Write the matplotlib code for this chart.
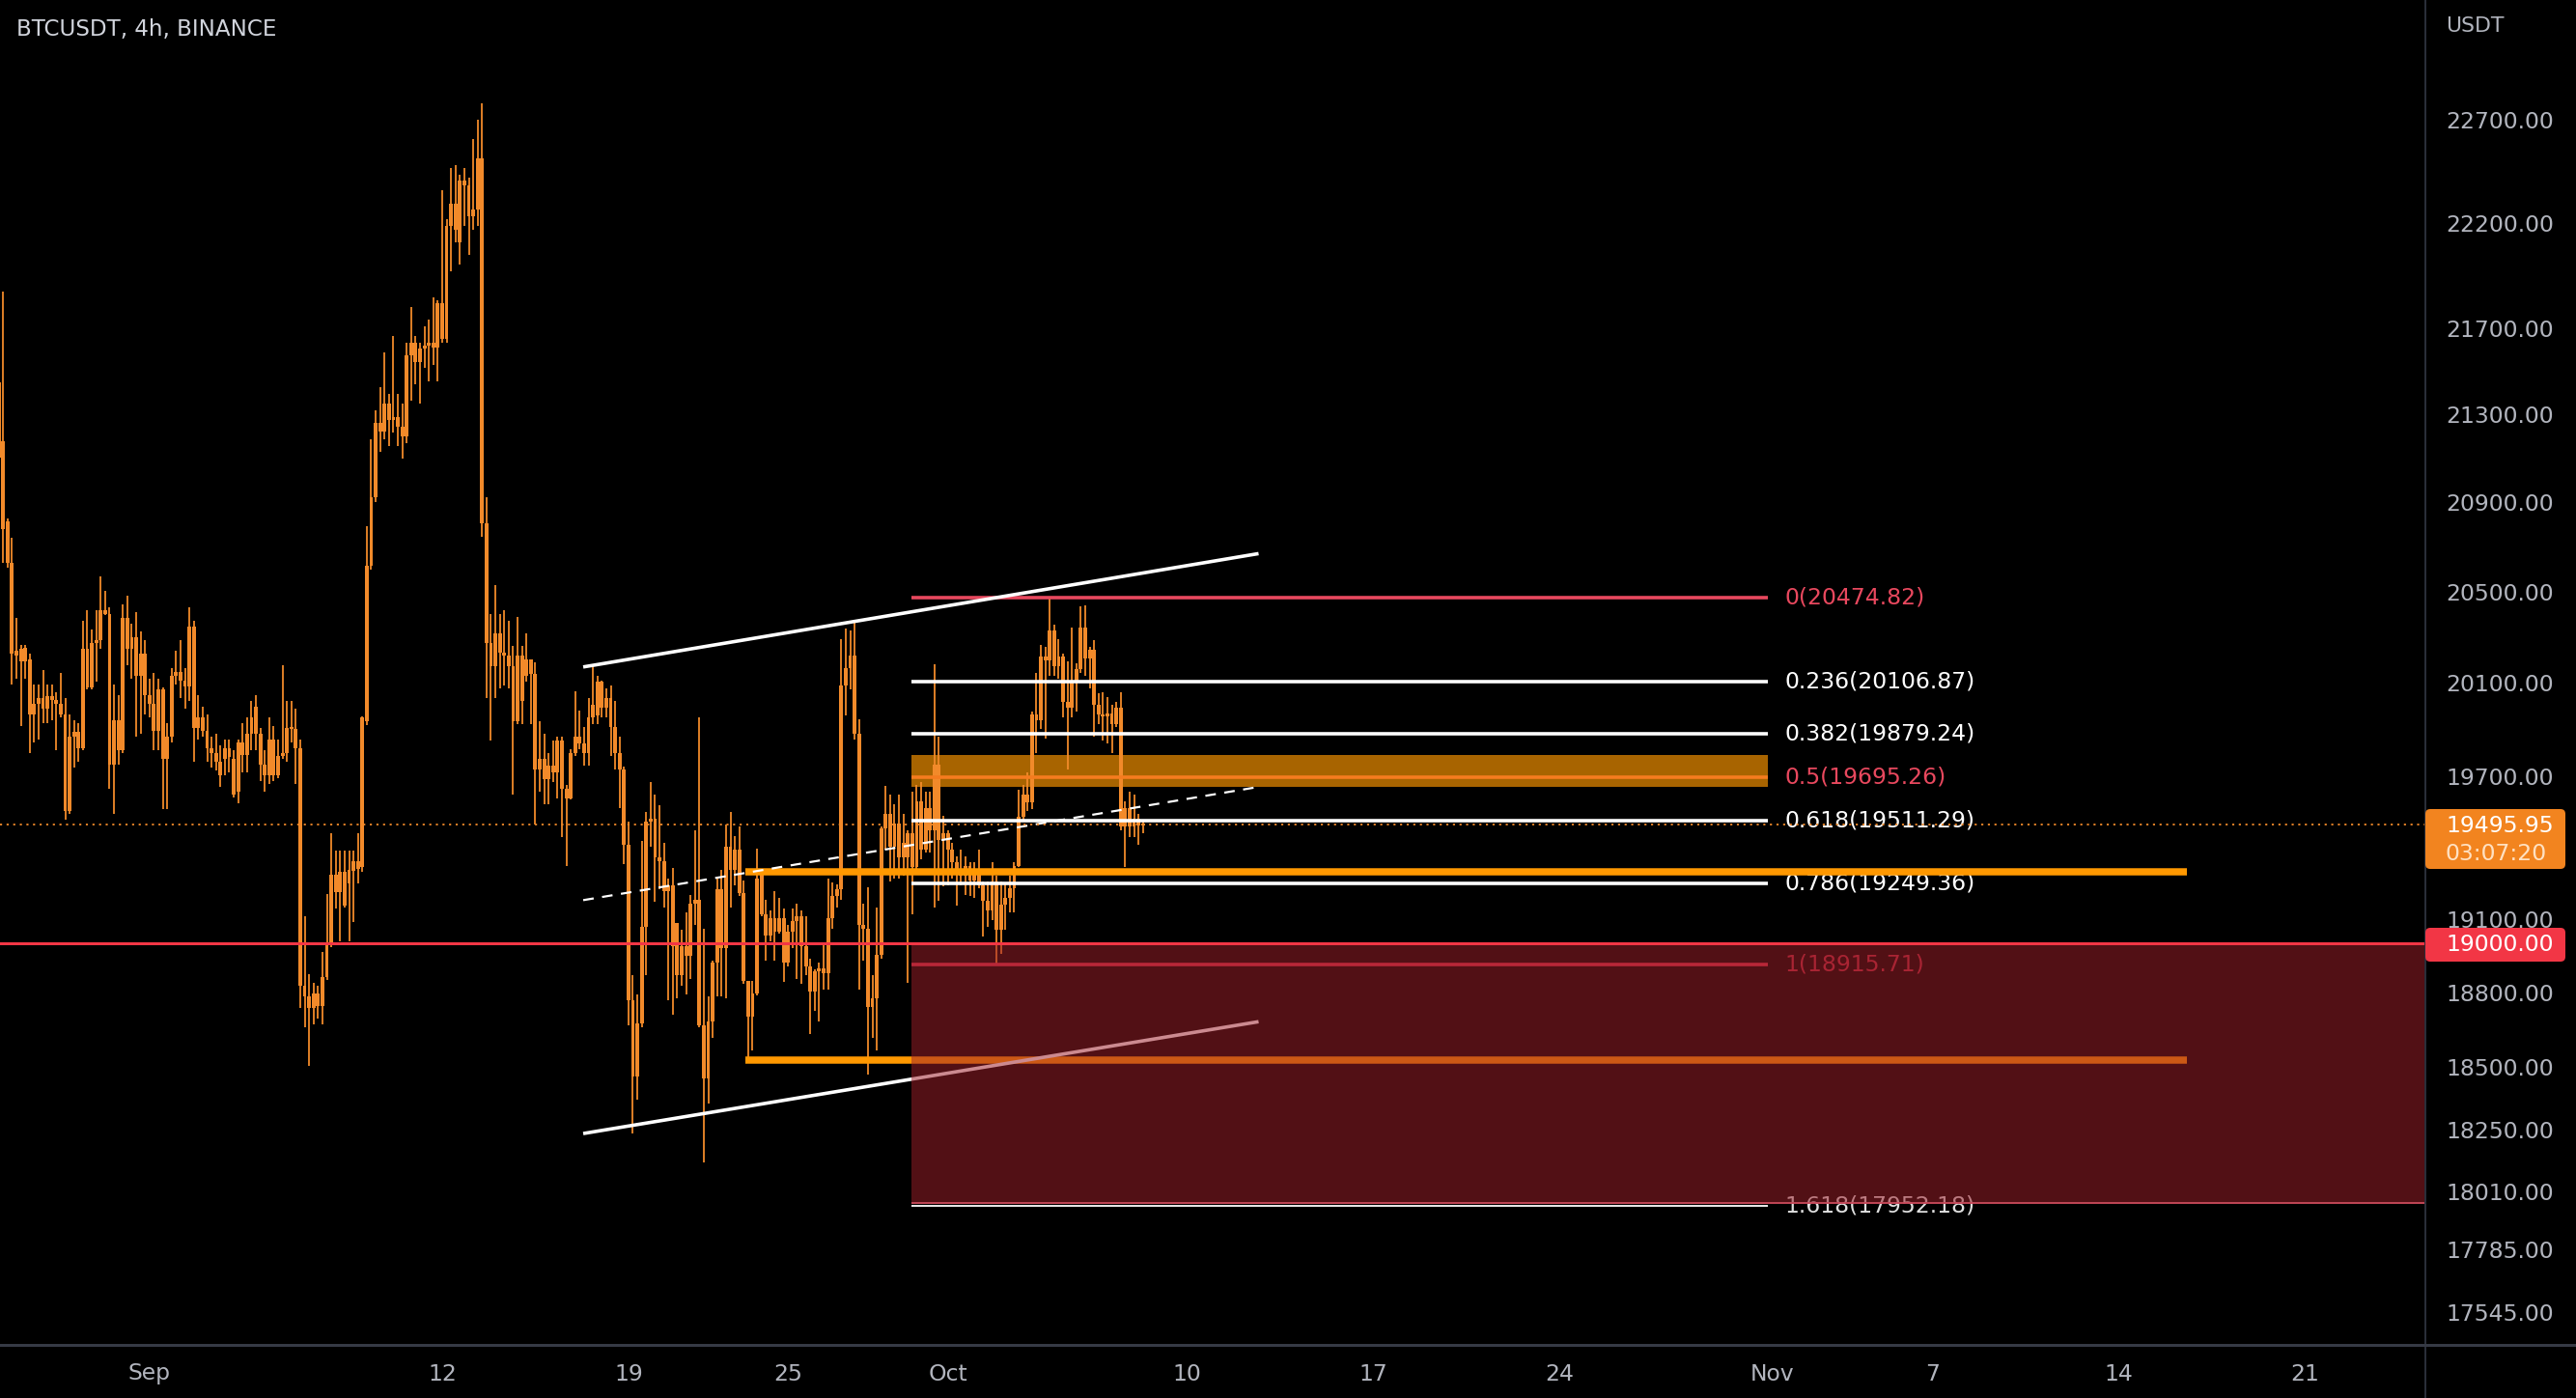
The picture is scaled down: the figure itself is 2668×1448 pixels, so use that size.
import matplotlib
matplotlib.use("Agg")
import matplotlib.pyplot as plt
import numpy as np
from matplotlib.patches import Rectangle, FancyBboxPatch
from matplotlib.lines import Line2D
from matplotlib.ticker import NullLocator

W, H = 2668, 1448
DPI = 100
PT = 72 / DPI  # points per pixel

# BTCUSDT 4h candles, time in days counted from Sep 1 (first candle Aug 26 08:00)
first_day = -5 - 2 / 3
opens = [21447, 21179, 20815, 20629, 20220, 20250, 20195, 20203, 19963, 20011,
         20035, 19990, 20045, 20025, 20010, 19963, 19550, 19868, 19890, 19820,
         20251, 20083, 20275, 20287, 20421, 20400, 19750, 19939, 19809, 20384,
         20251, 20299, 20131, 20227, 20047, 20011, 19892, 20071, 19773, 19868,
         20131, 20150, 20110, 20085, 20348, 19904, 19951, 19892, 19820, 19797,
         19761, 19773, 19820, 19773, 19632, 19844, 19790, 19880, 19999, 19880,
         19750, 19702, 19856, 19702, 19785, 19797, 19904, 19900, 19820, 18829,
         18784, 18739, 18795, 18745, 18862, 18998, 19283, 19214, 19295, 19249,
         19300, 19341, 19318, 19937, 20617, 20922, 21260, 21220, 21350, 21275,
         21290, 21245, 21200, 21575, 21635, 21545, 21605, 21620, 21635, 21610,
         21817, 21650, 22186, 22295, 22108, 22404, 22380, 22232, 22263, 22513,
         20805, 20274, 20175, 20317, 20232, 20218, 20175, 19937, 20218, 20133,
         20204, 20140, 19730, 19772, 19689, 19744, 19716, 19854, 19648, 19607,
         19800, 19868, 19840, 19800, 19951, 19960, 20105, 19993, 20035, 19909,
         19800, 19730, 19410, 18770, 18461, 18675, 19070, 19508, 19520, 19358,
         19343, 19217, 19239, 19085, 18871, 18989, 18950, 19165, 19180, 18668,
         18454, 18683, 18922, 19224, 18981, 19403, 19306, 19388, 19210, 18849,
         18704, 18798, 19284, 19120, 19033, 19106, 19047, 19106, 18922, 19047,
         19091, 19113, 18989, 18908, 18806, 18886, 18900, 18878, 19106, 19195,
         19224, 20088, 20165, 20220, 19880, 19077, 19062, 18741, 18777, 18952,
         19478, 19540, 19403, 19499, 19356, 19356, 19458, 19316, 19594, 19390,
         19566, 19471, 19750, 19431, 19460, 19390, 19336, 19309, 19280, 19322,
         19262, 19296, 19242, 19175, 19135, 19255, 19056, 19162, 19189, 19229,
         19322, 19526, 19621, 19590, 19964, 19940, 20216, 20200, 20328, 20174,
         20216, 20020, 19992, 20104, 20160, 20343, 20209, 20244, 20006, 19964,
         19955, 19970, 19923, 19992, 19485, 19566, 19485, 19520, 19490]
highs = [21520, 21875, 20828, 20741, 20384, 20265, 20265, 20227, 20095, 20095,
         20155, 20095, 20095, 20059, 20143, 20035, 19963, 19939, 19927, 20372,
         20421, 20336, 20421, 20568, 20506, 20433, 20095, 20047, 20445, 20482,
         20360, 20409, 20324, 20287, 20119, 20143, 20119, 20083, 19927, 20167,
         20239, 20287, 20167, 20433, 20372, 20047, 19999, 19963, 19868, 19880,
         19832, 19856, 19856, 19809, 19856, 19927, 19951, 20023, 20047, 19904,
         19809, 19951, 19915, 19856, 20179, 20023, 20023, 19987, 19856, 19112,
         18874, 18840, 18829, 18964, 19203, 19457, 19387, 19387, 19387, 19387,
         19387, 19457, 19955, 20791, 21186, 21320, 21425, 21590, 21395, 21665,
         21395, 21350, 21635, 21802, 21665, 21635, 21711, 21741, 21847, 21832,
         22357, 22218, 22466, 22482, 22435, 22466, 22420, 22608, 22703, 22782,
         20922, 20403, 20531, 20403, 20417, 20374, 20260, 20388, 20260, 20317,
         20204, 20190, 19937, 19882, 19800, 19854, 19868, 19868, 19661, 19813,
         20063, 19979, 19909, 20035, 20175, 20133, 20110, 20077, 20091, 20021,
         19868, 19740, 19508, 18871, 18791, 19425, 19546, 19675, 19622, 19576,
         19418, 19269, 19313, 19085, 19055, 19128, 19202, 19471, 19950, 19062,
         18784, 18930, 19269, 19306, 19493, 19546, 19448, 19486, 19261, 18849,
         18849, 19395, 19291, 19180, 19135, 19217, 19187, 19143, 19077, 19143,
         19165, 19135, 19113, 18937, 18893, 18922, 19000, 19269, 19254, 19246,
         20290, 20338, 20330, 20377, 19942, 19165, 19232, 18871, 19150, 19486,
         19660, 19621, 19580, 19621, 19539, 19472, 19634, 19662, 19675, 19634,
         19634, 20180, 19868, 19532, 19470, 19417, 19363, 19390, 19363, 19336,
         19336, 19390, 19255, 19255, 19336, 19282, 19255, 19249, 19282, 19336,
         19641, 19662, 19716, 19978, 20146, 20265, 20258, 20471, 20357, 20293,
         20230, 20195, 20343, 20188, 20435, 20442, 20258, 20286, 20055, 20062,
         20041, 20006, 20020, 20062, 19594, 19634, 19621, 19539, 19506]
lows = [21060, 20629, 20607, 20095, 20119, 19915, 20119, 19797, 19844, 19856,
        19927, 19927, 19939, 19809, 19951, 19515, 19540, 19738, 19761, 19809,
        20071, 20071, 20107, 20251, 20397, 19644, 19538, 19750, 19797, 20179,
        20119, 19868, 19880, 19963, 19951, 19809, 19809, 19562, 19562, 19844,
        20095, 20035, 19987, 20023, 19761, 19856, 19868, 19761, 19738, 19726,
        19656, 19702, 19714, 19610, 19585, 19714, 19714, 19809, 19809, 19679,
        19632, 19667, 19679, 19691, 19773, 19761, 19844, 19667, 18739, 18661,
        18505, 18672, 18694, 18672, 18851, 18987, 19146, 19009, 19150, 19009,
        19089, 19249, 19295, 19920, 20600, 20900, 21128, 21186, 21157, 21216,
        21157, 21098, 21171, 21365, 21440, 21350, 21515, 21455, 21530, 21455,
        21635, 21635, 21970, 22108, 22001, 22186, 22046, 22170, 22186, 20747,
        20035, 19854, 20035, 20077, 20091, 20077, 19620, 19923, 19923, 20105,
        19923, 19497, 19634, 19580, 19580, 19675, 19607, 19443, 19321, 19600,
        19786, 19813, 19744, 19744, 19923, 19923, 19951, 19951, 19786, 19730,
        19566, 19328, 18668, 18235, 18369, 18660, 18871, 19403, 19172, 19224,
        19150, 18770, 18712, 18777, 18827, 18791, 18857, 19077, 18660, 18122,
        18355, 18618, 18784, 18784, 18777, 19150, 19239, 19195, 18835, 18532,
        18568, 18790, 19113, 18930, 19011, 18930, 19040, 18842, 18908, 18981,
        18857, 18835, 18871, 18632, 18726, 18683, 18813, 18813, 19062, 19150,
        19180, 19959, 20073, 19857, 18813, 18930, 18469, 18618, 18568, 18937,
        19390, 19255, 19269, 19269, 19282, 18840, 19122, 19310, 19350, 19377,
        19377, 19149, 19175, 19235, 19242, 19269, 19155, 19242, 19202, 19195,
        19189, 19229, 19030, 19070, 19096, 18918, 18957, 19056, 19128, 19128,
        19316, 19506, 19553, 19560, 19799, 19903, 19861, 20132, 20132, 20118,
        19950, 19730, 19950, 19978, 20146, 20132, 20076, 19868, 19923, 19854,
        19840, 19799, 19909, 19471, 19316, 19444, 19444, 19410, 19458]
closes = [21103, 20778, 20629, 20227, 20240, 20195, 20255, 19963, 20011, 20035,
          19990, 20045, 20025, 20010, 19963, 19550, 19868, 19890, 19820, 20251,
          20083, 20275, 20287, 20421, 20400, 19750, 19939, 19809, 20384, 20251,
          20299, 20131, 20227, 20047, 20011, 19892, 20071, 19773, 19868, 20131,
          20150, 20110, 20085, 20348, 19904, 19951, 19892, 19820, 19797, 19761,
          19702, 19820, 19780, 19620, 19844, 19790, 19880, 19951, 19880, 19750,
          19702, 19856, 19702, 19785, 19797, 19904, 19900, 19820, 18829, 18784,
          18739, 18795, 18745, 18862, 18998, 19283, 19214, 19295, 19157, 19306,
          19341, 19310, 19951, 20617, 20922, 21260, 21220, 21350, 21275, 21290,
          21245, 21200, 21575, 21635, 21545, 21605, 21620, 21635, 21610, 21817,
          21650, 22186, 22295, 22170, 22404, 22380, 22232, 22263, 22513, 20805,
          20274, 20175, 20317, 20232, 20218, 20175, 19937, 20218, 20021, 20204,
          20140, 19730, 19772, 19689, 19744, 19716, 19854, 19648, 19607, 19800,
          19868, 19840, 19800, 19951, 20007, 20105, 19993, 20035, 19909, 19800,
          19730, 19410, 18770, 18461, 18675, 19070, 19508, 19520, 19358, 19343,
          19217, 19239, 18989, 18871, 18989, 18950, 19165, 19180, 18668, 18454,
          18683, 18922, 19224, 18981, 19403, 19306, 19388, 19210, 18849, 18704,
          18798, 19269, 19120, 19033, 19106, 19047, 19106, 18922, 19047, 19091,
          19113, 18989, 18908, 18806, 18886, 18900, 18878, 19106, 19195, 19224,
          20088, 20165, 20220, 19880, 19077, 19062, 18741, 18777, 18952, 19478,
          19540, 19403, 19499, 19356, 19417, 19458, 19316, 19594, 19390, 19566,
          19471, 19750, 19431, 19460, 19390, 19336, 19309, 19280, 19322, 19262,
          19296, 19242, 19175, 19135, 19255, 19056, 19162, 19189, 19229, 19322,
          19526, 19621, 19590, 19964, 19940, 20216, 20200, 20328, 20174, 20216,
          20020, 19992, 20104, 20160, 20343, 20209, 20244, 20006, 19964, 19955,
          19970, 19923, 19992, 19485, 19566, 19485, 19520, 19490, 19495.95]

# annotations
support_level = 19000
fib_days = [28.64, 60.82]
fib_ratios = [0, 0.236, 0.382, 0.5, 0.618, 0.786, 1, 1.618]
fib_prices = [20474.82, 20106.87, 19879.24, 19695.26, 19511.29, 19249.36, 18915.71, 17952.18]
fib_colors = ['#e8485e', 'white', 'white', '#f57c1f', 'white', 'white', '#d63048', 'white']
fib_text_colors = ['#e8485e', 'white', 'white', '#e8485e', 'white', 'white', '#b52a3e', '#e0e0e0']
fib_widths = [3.6, 3.6, 3.6, 3.6, 3.6, 3.6, 3.6, 1.8]
zone_band = [19654, 19791]
red_zone = [17960, 19000]
box_days = [22.39, 76.57]
box_prices = [19295, 18526]
chan_days = [16.30, 41.68]
chan_upper = [20170, 20670]
chan_mid = [19179, 19654]
chan_lower = [18236, 18682]

price_ticks = [22700, 22200, 21700, 21300, 20900, 20500, 20100, 19700, 19100,
               18800, 18500, 18250, 18010, 17785, 17545]
day_ticks = [0, 11, 18, 24, 30, 39, 46, 53, 61, 67, 74, 81]
day_labels = ['Sep', '12', '19', '25', 'Oct', '10', '17', '24', 'Nov', '7', '14', '21']

CANDLE = '#f28a2a'
RED = '#f23645'
GRID = '#2a2e39'
TXT = '#b2b5be'
FS = 16.9

fig = plt.figure(figsize=(W / DPI, H / DPI), dpi=DPI, facecolor='black')
ax = fig.add_axes([0, 55 / H, 2512 / W, 1393 / H])
ax.set_facecolor('black')
ax.set_yscale('log')
ax.set_xlim(-5.617, 85.53)
ax.set_ylim(17422, 23296)

# candles
t = first_day + np.arange(len(opens)) / 6
o, hi, lo, c = map(np.array, (opens, highs, lows, closes))
ax.vlines(t, lo, hi, color=CANDLE, lw=1.8 * PT, zorder=2)
body_lo = np.minimum(o, c)
body_h = np.maximum(np.abs(c - o), body_lo * 0.0004)
ax.bar(t, body_h, width=0.14, bottom=body_lo, color=CANDLE, linewidth=0, zorder=2)

# fib retracement
ax.fill_between(fib_days, zone_band[0], zone_band[1], color='#a86400', lw=0, zorder=1.5)
for r, p, col, tcol, lw in zip(fib_ratios, fib_prices, fib_colors, fib_text_colors, fib_widths):
    ax.hlines(p, fib_days[0], fib_days[1], color=col, lw=lw * PT, zorder=3)
    ax.text(fib_days[1] + 0.62, p, f"{r:g}({p:.2f})", color=tcol, fontsize=FS,
            va='center', ha='left', zorder=3)

# orange range lines
for p in box_prices:
    ax.hlines(p, box_days[0], box_days[1], color='#ff9800', lw=7.5 * PT, zorder=3)

# channel
ax.plot(chan_days, chan_upper, color='white', lw=3.6 * PT, zorder=3, solid_capstyle='butt')
ax.plot(chan_days, chan_lower, color='white', lw=3.6 * PT, zorder=3, solid_capstyle='butt')
ax.plot(chan_days, chan_mid, color='white', lw=2.2 * PT, ls=(0, (5, 4)), zorder=3)

# red zone over everything below 19000
ax.add_patch(Rectangle((fib_days[0], red_zone[0]), 100, red_zone[1] - red_zone[0],
                       facecolor='#9e1f2a', alpha=0.52, lw=0, zorder=5))
ax.hlines(red_zone[0] + 6, fib_days[0], 100, color='#c94a5c', lw=1.8 * PT, zorder=5)

ax.axhline(support_level, color=RED, lw=3 * PT, zorder=6)
ax.axhline(closes[-1], color=CANDLE, lw=1.8 * PT, ls=(0, (1.2, 2.6)), zorder=6)

# axes look
for s in ax.spines.values():
    s.set_visible(False)
ax.yaxis.tick_right()
ax.set_yticks(price_ticks, [f"{p:.2f}" for p in price_ticks])
ax.yaxis.set_minor_locator(NullLocator())
ax.set_xticks(day_ticks, day_labels)
ax.tick_params(axis='y', length=0, pad=21 * PT, labelsize=FS, labelcolor=TXT)
ax.tick_params(axis='x', length=0, pad=18.5 * PT, labelsize=FS, labelcolor=TXT)

fig.add_artist(Line2D([2512 / W, 2512 / W], [0, 1], transform=fig.transFigure,
                      color=GRID, lw=2 * PT))
fig.add_artist(Line2D([0, 1], [55 / H, 55 / H], transform=fig.transFigure,
                      color='#363a45', lw=3 * PT))

fig.text(17 / W, 1 - 31 / H, "BTCUSDT, 4h, BINANCE", color='#d1d4dc',
         fontsize=16.6, va='center', ha='left')
fig.text(2533 / W, 1 - 27 / H, "USDT", color=TXT, fontsize=15.8, va='center', ha='left')

# price labels on the axis
def axis_box(y_top, y_bot, color):
    fig.patches.append(FancyBboxPatch((2512 / DPI, (H - y_bot) / DPI), 145 / DPI,
                                      (y_bot - y_top) / DPI,
                                      boxstyle='round,pad=0,rounding_size=0.05',
                                      transform=fig.dpi_scale_trans, facecolor=color,
                                      edgecolor='none', figure=fig, zorder=5))

axis_box(838, 900, '#f2841f')
fig.text(2533 / W, 1 - 855 / H, f"{closes[-1]:.2f}", color='white', fontsize=FS,
         va='center', ha='left', zorder=6)
fig.text(2533 / W, 1 - 884 / H, "03:07:20", color='#ffe1c2', fontsize=FS,
         va='center', ha='left', zorder=6)
axis_box(961, 996, RED)
fig.text(2533 / W, 1 - 978.5 / H, f"{support_level:.2f}", color='white', fontsize=FS,
         va='center', ha='left', zorder=6)

fig.savefig("out.png", dpi=DPI, facecolor='black')
